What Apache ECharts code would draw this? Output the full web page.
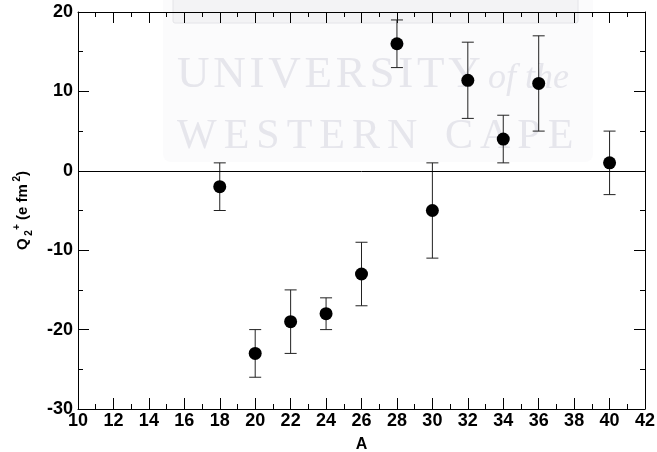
<!DOCTYPE html>
<html>
<head>
<meta charset="utf-8">
<script src="https://cdn.jsdelivr.net/npm/echarts@6/dist/echarts.min.js"></script>
<style>
  html, body { margin: 0; padding: 0; background: #fff; }
  #chart { width: 657px; height: 452px; }
</style>
</head>
<body>
<div id="chart"></div>
<script>
// Quadrupole moments Q(2+) versus mass number A
const massNumbers = [18, 20, 22, 24, 26, 28, 30, 32, 34, 36, 40];
const qValues     = [-2, -23, -19, -18, -13, 16, -5, 11.4, 4, 11, 1];
const errUpper    = [3, 3, 4, 2, 4, 3, 6, 4.8, 3, 6, 4];
const errLower    = [3, 3, 4, 2, 4, 3, 6, 4.8, 3, 6, 4];
const xTicks = { min: 10, max: 42, step: 2 };
const yTicks = { min: -30, max: 20, step: 10 };

const FONT = '"Liberation Sans", Arial, sans-serif';
const SERIF = '"Liberation Serif", "DejaVu Serif", serif';
const HAIR = '\u200A';

// spread letters of a word apart with hair spaces
function spaced(word, n) {
  return word.split('').join(HAIR.repeat(n));
}

const points = massNumbers.map((a, i) => [a, qValues[i]]);
const bars = massNumbers.map((a, i) => [a, qValues[i] - errLower[i], qValues[i] + errUpper[i]]);

const chart = echarts.init(document.getElementById('chart'), null, { renderer: 'canvas' });

const tickStyle = { lineStyle: { color: '#000', width: 1 } };
function makeX(pos, labels) {
  return {
    type: 'value', position: pos, min: xTicks.min, max: xTicks.max, interval: xTicks.step,
    axisLine: { show: true, onZero: false, lineStyle: { color: '#000', width: 1 } },
    axisTick: { show: true, inside: true, length: 11, ...tickStyle },
    minorTick: { show: true, splitNumber: 2, length: 5, ...tickStyle },
    splitLine: { show: false },
    axisLabel: labels ? { show: true, color: '#000', fontFamily: FONT, fontWeight: 'bold', fontSize: 18, margin: 3 } : { show: false },
    name: labels ? 'A' : '', nameLocation: 'middle', nameGap: 28,
    nameTextStyle: { color: '#000', fontFamily: FONT, fontWeight: 'bold', fontSize: 16 }
  };
}
function makeY(pos, labels) {
  return {
    type: 'value', position: pos, min: yTicks.min, max: yTicks.max, interval: yTicks.step,
    axisLine: { show: true, onZero: false, lineStyle: { color: '#000', width: 1 } },
    axisTick: { show: true, inside: true, length: 11, ...tickStyle },
    minorTick: { show: true, splitNumber: 2, length: 5, ...tickStyle },
    splitLine: { show: false },
    axisLabel: labels ? { show: true, color: '#000', fontFamily: FONT, fontWeight: 'bold', fontSize: 18, margin: 5 } : { show: false },
    name: labels ? '{m|Q}{sub| 2}{sup|+}{m| (e fm}{sup| 2}{m|)}' : '',
    nameLocation: 'middle', nameRotate: 90, nameGap: 44,
    nameTextStyle: {
      color: '#000', fontFamily: FONT, fontWeight: 'bold', fontSize: 15,
      rich: {
        m:   { fontFamily: FONT, fontWeight: 'bold', fontSize: 15, lineHeight: 22, verticalAlign: 'middle' },
        sub: { fontFamily: FONT, fontWeight: 'bold', fontSize: 10, lineHeight: 22, verticalAlign: 'bottom' },
        sup: { fontFamily: FONT, fontWeight: 'bold', fontSize: 10, lineHeight: 22, verticalAlign: 'top' }
      }
    }
  };
}

chart.setOption({
  animation: false,
  backgroundColor: '#fff',
  grid: { left: 78, right: 12, top: 12, bottom: 43, containLabel: false, outerBoundsMode: 'none' },
  graphic: [
    // faint institutional watermark behind the plot
    { type: 'rect', z: -10, shape: { x: 163, y: -8, width: 430, height: 170, r: 8 }, style: { fill: '#fbfbfc' } },
    { type: 'rect', z: -9, shape: { x: 173, y: -4, width: 405, height: 27, r: 2 }, style: { fill: '#f3f3f5', stroke: '#e4e4e8', lineWidth: 1 } },
    { type: 'text', z: -8, x: 177, y: 53, style: { text: spaced('UNIVERSITY', 1), font: '45px ' + SERIF, fill: '#e6e6ec' } },
    { type: 'text', z: -8, x: 488, y: 61, style: { text: 'of the', font: 'italic 36px ' + SERIF, fill: '#e6e6ec' } },
    { type: 'text', z: -8, x: 177, y: 116, style: { text: spaced('WESTERN', 2), font: '42px ' + SERIF, fill: '#e6e6ec' } },
    { type: 'text', z: -8, x: 445, y: 116, style: { text: spaced('CAPE', 2), font: '42px ' + SERIF, fill: '#e6e6ec' } }
  ],
  xAxis: [makeX('bottom', true), makeX('top', false)],
  yAxis: [makeY('left', true), makeY('right', false)],
  series: [
    {
      type: 'custom',
      xAxisIndex: 0, yAxisIndex: 0,
      data: bars,
      z: 3,
      renderItem: function (params, api) {
        const x = api.value(0);
        const lo = api.coord([x, api.value(1)]);
        const hi = api.coord([x, api.value(2)]);
        const cap = 6;
        const st = { stroke: '#222', lineWidth: 1 };
        return {
          type: 'group',
          children: [
            { type: 'line', shape: { x1: lo[0], y1: lo[1], x2: hi[0], y2: hi[1] }, style: st },
            { type: 'line', shape: { x1: lo[0] - cap, y1: lo[1], x2: lo[0] + cap, y2: lo[1] }, style: st },
            { type: 'line', shape: { x1: hi[0] - cap, y1: hi[1], x2: hi[0] + cap, y2: hi[1] }, style: st }
          ]
        };
      }
    },
    {
      type: 'scatter',
      xAxisIndex: 0, yAxisIndex: 0,
      data: points,
      symbol: 'circle', symbolSize: 13, z: 4,
      itemStyle: { color: '#000', opacity: 1 },
      markLine: {
        silent: true, symbol: 'none', label: { show: false },
        lineStyle: { color: '#000', width: 1, type: 'solid' },
        data: [{ yAxis: 0 }]
      }
    }
  ]
});
</script>
</body>
</html>
